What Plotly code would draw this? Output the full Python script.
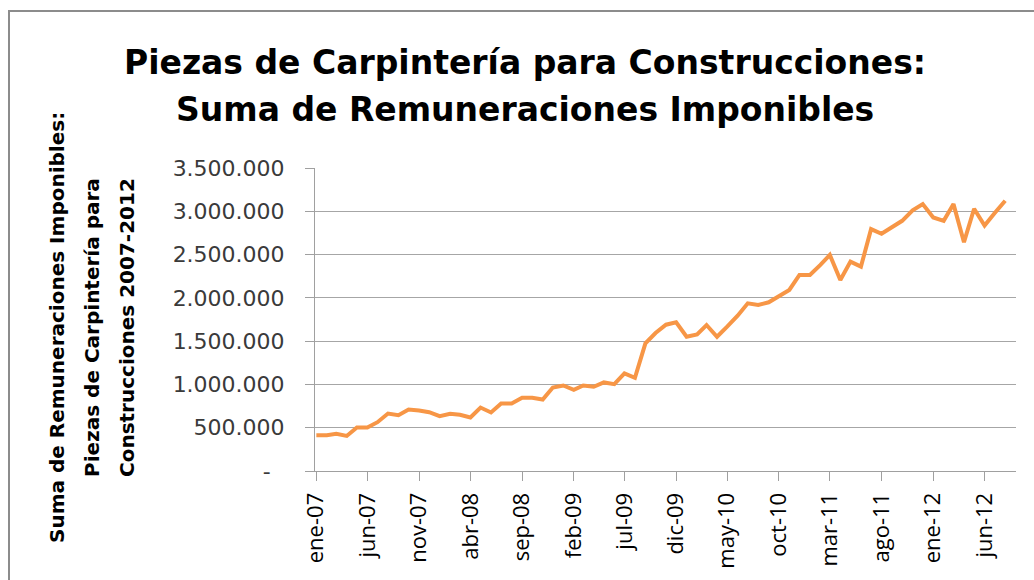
import pandas as pd
import plotly.graph_objects as go

# Monthly data: ene-07 .. ago-12
months = pd.date_range("2007-01-01", periods=68, freq="MS")
values = [
    413000, 413000, 429000, 405000, 502000, 502000, 564000, 664000, 645000, 710000,
    699000, 679000, 633000, 660000, 649000, 618000, 733000, 676000, 780000, 780000,
    845000, 845000, 826000, 965000, 988000, 938000, 988000, 973000, 1023000, 1003000,
    1127000, 1077000, 1474000, 1594000, 1690000, 1717000, 1551000, 1578000, 1686000, 1551000,
    1667000, 1794000, 1937000, 1918000, 1949000, 2014000, 2091000, 2265000, 2265000, 2381000,
    2496000, 2207000, 2419000, 2361000, 2794000, 2740000, 2813000, 2890000, 3010000, 3083000,
    2929000, 2890000, 3083000, 2643000, 3029000, 2836000, 2979000, 3121000,
]

x_tick_dates = ["2007-01-01", "2007-06-01", "2007-11-01", "2008-04-01", "2008-09-01",
                "2009-02-01", "2009-07-01", "2009-12-01", "2010-05-01", "2010-10-01",
                "2011-03-01", "2011-08-01", "2012-01-01", "2012-06-01"]
x_tick_labels = ["ene-07", "jun-07", "nov-07", "abr-08", "sep-08", "feb-09", "jul-09",
                 "dic-09", "may-10", "oct-10", "mar-11", "ago-11", "ene-12", "jun-12"]

y_tick_vals = [0, 500000, 1000000, 1500000, 2000000, 2500000, 3000000, 3500000]
y_tick_labels = ["-\u00a0\u00a0", "500.000", "1.000.000", "1.500.000", "2.000.000",
                 "2.500.000", "3.000.000", "3.500.000"]

title_lines = ["Piezas de Carpintería para Construcciones:",
               "Suma de Remuneraciones Imponibles"]
ytitle_lines = ["Suma de Remuneraciones Imponibles:",
                "Piezas de Carpintería para",
                "Construcciones 2007-2012"]

W, H = 1034, 580
L, R, T, B = 315, 1016, 168, 471


def px_x(p):
    return (p - L) / (R - L)


def px_y(p):
    return (B - p) / (B - T)


fig = go.Figure()
fig.add_trace(go.Scatter(
    x=months, y=values, mode="lines",
    line=dict(color="#F79646", width=4),
    hoverinfo="skip", showlegend=False,
))

annotations = []
for txt, py in zip(title_lines, [63, 110]):
    annotations.append(dict(
        text="<b>%s</b>" % txt, xref="paper", yref="paper",
        x=px_x(525), y=px_y(py), xanchor="center", yanchor="middle",
        showarrow=False,
        font=dict(family="DejaVu Sans", size=33, color="#000000"),
    ))
for txt, pxx in zip(ytitle_lines, [57, 92, 127]):
    annotations.append(dict(
        text="<b>%s</b>" % txt, xref="paper", yref="paper",
        x=px_x(pxx), y=px_y(328), xanchor="center", yanchor="middle",
        textangle=-90, showarrow=False,
        font=dict(family="DejaVu Sans", size=20, color="#000000"),
    ))

frame = dict(color="#8C8C8C", width=2)
fig.update_layout(
    width=W, height=H,
    margin=dict(l=L, r=W - R, t=T, b=H - B, pad=0),
    paper_bgcolor="#FFFFFF", plot_bgcolor="#FFFFFF",
    annotations=annotations,
    shapes=[
        dict(type="line", xref="paper", yref="paper",
             x0=px_x(9), x1=px_x(9), y0=px_y(10), y1=px_y(H), line=frame),
        dict(type="line", xref="paper", yref="paper",
             x0=px_x(8), x1=px_x(W), y0=px_y(11), y1=px_y(11), line=frame),
    ],
    xaxis=dict(
        type="date",
        range=["2006-12-28", "2012-09-02"],
        tickvals=x_tick_dates, ticktext=x_tick_labels,
        tickangle=-90, ticks="outside", ticklen=9, tickcolor="#A0A0A0", tickwidth=1,
        showline=True, linecolor="#A0A0A0", linewidth=1,
        showgrid=False, zeroline=False,
        tickfont=dict(family="Open Sans", size=22, color="#000000"),
        ticklabelstandoff=3,
    ),
    yaxis=dict(
        range=[0, 3500000],
        tickvals=y_tick_vals, ticktext=y_tick_labels,
        ticks="outside", ticklen=9, tickcolor="#A0A0A0", tickwidth=1,
        showline=True, linecolor="#A0A0A0", linewidth=1,
        showgrid=True, gridcolor="#A6A6A6", gridwidth=1,
        zeroline=False,
        tickfont=dict(family="DejaVu Sans", size=22, color="#3A3A3A"),
        ticklabelstandoff=16,
    ),
)

fig.write_html(
    "out.html",
    config={"displayModeBar": False, "staticPlot": True},
    post_script="document.body.style.margin='0';document.body.style.overflow='hidden';",
)
